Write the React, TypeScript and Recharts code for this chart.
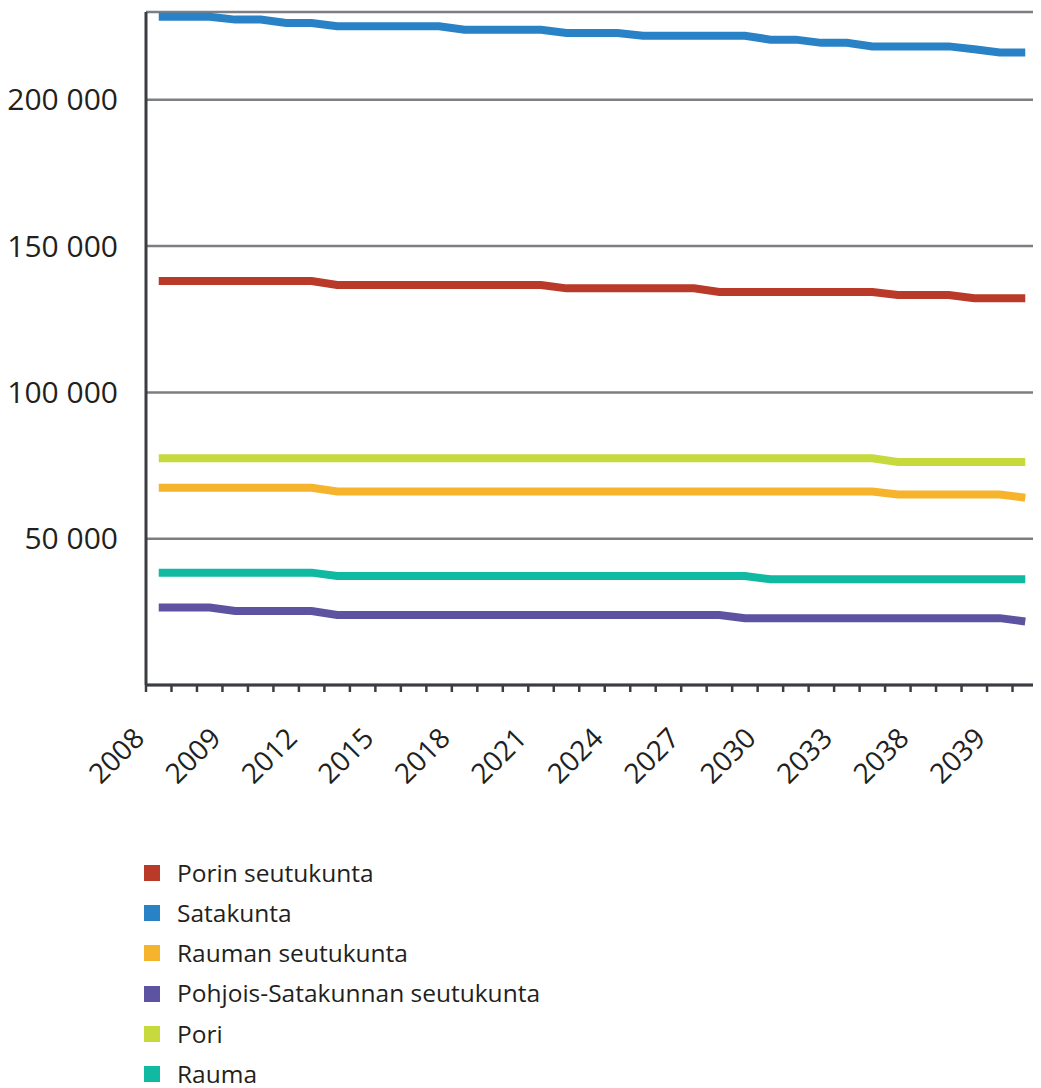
import { LineChart, Line, XAxis, YAxis, CartesianGrid } from "recharts";

// x-axis labels, one on every third tick
const tickYears = ["2008", "2009", "2012", "2015", "2018", "2021", "2024", "2027", "2030", "2033", "2038", "2039"];

// population per period (35 periods)
const satakunta = [
  228400, 228400, 228400, 227400, 227400, 226250, 226250, 225100, 225100, 225100,
  225100, 225100, 223950, 223950, 223950, 223950, 222850, 222850, 222850, 221900,
  221900, 221900, 221900, 221900, 220550, 220550, 219450, 219450, 218250, 218250,
  218250, 218250, 217300, 216200, 216200,
];
const porinSeutukunta = [
  138050, 138050, 138050, 138050, 138050, 138050, 138050, 136700, 136700, 136700,
  136700, 136700, 136700, 136700, 136700, 136700, 135550, 135550, 135550, 135550,
  135550, 135550, 134300, 134300, 134300, 134300, 134300, 134300, 134300, 133300,
  133300, 133300, 132150, 132150, 132150,
];
const pori = [
  77500, 77500, 77500, 77500, 77500, 77500, 77500, 77500, 77500, 77500,
  77500, 77500, 77500, 77500, 77500, 77500, 77500, 77500, 77500, 77500,
  77500, 77500, 77500, 77500, 77500, 77500, 77500, 77500, 77500, 76250,
  76250, 76250, 76250, 76250, 76250,
];
const raumanSeutukunta = [
  67400, 67400, 67400, 67400, 67400, 67400, 67400, 66150, 66150, 66150,
  66150, 66150, 66150, 66150, 66150, 66150, 66150, 66150, 66150, 66150,
  66150, 66150, 66150, 66150, 66150, 66150, 66150, 66150, 66150, 65100,
  65100, 65100, 65100, 65100, 64000,
];
const rauma = [
  38400, 38400, 38400, 38400, 38400, 38400, 38400, 37250, 37250, 37250,
  37250, 37250, 37250, 37250, 37250, 37250, 37250, 37250, 37250, 37250,
  37250, 37250, 37250, 37250, 36150, 36150, 36150, 36150, 36150, 36150,
  36150, 36150, 36150, 36150, 36150,
];
const pohjoisSatakunta = [
  26500, 26500, 26500, 25300, 25300, 25300, 25300, 23950, 23950, 23950,
  23950, 23950, 23950, 23950, 23950, 23950, 23950, 23950, 23950, 23950,
  23950, 23950, 23950, 22850, 22850, 22850, 22850, 22850, 22850, 22850,
  22850, 22850, 22850, 22850, 21700,
];

const yTicks = [50000, 100000, 150000, 200000];

const series = [
  { key: "porin", name: "Porin seutukunta", color: "#b93a28", values: porinSeutukunta },
  { key: "satakunta", name: "Satakunta", color: "#2a82c6", values: satakunta },
  { key: "rauman", name: "Rauman seutukunta", color: "#f6b42c", values: raumanSeutukunta },
  { key: "pohjois", name: "Pohjois-Satakunnan seutukunta", color: "#5d53a1", values: pohjoisSatakunta },
  { key: "pori", name: "Pori", color: "#c6da3e", values: pori },
  { key: "rauma", name: "Rauma", color: "#0fb9a2", values: rauma },
];

// points sit in the middle of each tick interval
const data = satakunta.map((_, i) => {
  const row: Record<string, number> = { x: i + 0.5 };
  series.forEach((s) => {
    row[s.key] = s.values[i];
  });
  return row;
});

const xTicks = Array.from({ length: satakunta.length + 1 }, (_, i) => i);

const FONT = "'Open Sans', sans-serif";
const TEXT = "#231f20";
const AXIS = "#3b3d41";

const formatThousands = (v: number) => String(v).replace(/\B(?=(\d{3})+(?!\d))/g, " ");

function YearTick({ x, payload }: any) {
  const i = payload.value;
  if (i % 3 !== 0 || !tickYears[i / 3]) return null;
  const y = 732;
  return (
    <text
      x={x}
      y={y}
      transform={`rotate(-45, ${x}, ${y})`}
      textAnchor="end"
      fontSize={28}
      fontFamily={FONT}
      fill={TEXT}
    >
      {tickYears[i / 3]}
    </text>
  );
}

export default function App() {
  return (
    <div style={{ position: "relative", width: 1033, height: 1075, fontFamily: FONT }}>
      <LineChart width={1033} height={800} data={data} margin={{ top: 4, right: 3, bottom: 0, left: 0 }}>
        <CartesianGrid vertical={false} stroke="#7d7e82" strokeWidth={2.5} />
        <XAxis
          dataKey="x"
          type="number"
          domain={[0, satakunta.length]}
          ticks={xTicks}
          interval={0}
          height={123}
          tickSize={7}
          axisLine={{ stroke: AXIS, strokeWidth: 3 }}
          tickLine={{ stroke: AXIS, strokeWidth: 2.5 }}
          tick={<YearTick />}
        />
        <YAxis
          type="number"
          domain={[0, 230000]}
          ticks={yTicks}
          width={138}
          tickSize={0}
          tickMargin={28}
          axisLine={{ stroke: AXIS, strokeWidth: 3 }}
          tickLine={false}
          tickFormatter={formatThousands}
          tick={{ fontSize: 30, fill: TEXT, fontFamily: FONT }}
        />
        {series.map((s) => (
          <Line
            key={s.key}
            dataKey={s.key}
            name={s.name}
            type="linear"
            stroke={s.color}
            strokeWidth={8}
            dot={false}
            activeDot={false}
            isAnimationActive={false}
          />
        ))}
      </LineChart>
      <div style={{ position: "absolute", left: 136, top: 845 }}>
        {series.map((s) => (
          <div key={s.key} style={{ display: "flex", alignItems: "center", height: 40.2 }}>
            <span style={{ width: 16, height: 16, background: s.color, display: "inline-block" }} />
            <span style={{ marginLeft: 17, fontSize: 24.5, color: TEXT, lineHeight: 1 }}>{s.name}</span>
          </div>
        ))}
      </div>
    </div>
  );
}
